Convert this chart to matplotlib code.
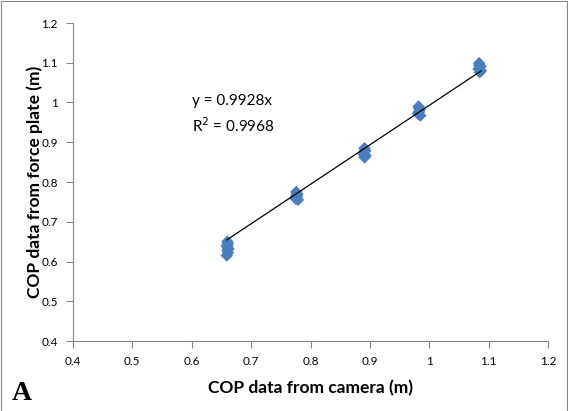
import matplotlib.pyplot as plt
import numpy as np
from matplotlib.patches import Rectangle

# COP positions (m)
cam_x = [0.660, 0.661, 0.659, 0.662, 0.660, 0.661, 0.659, 0.660,
         0.776, 0.778, 0.777, 0.775, 0.779, 0.777, 0.776,
         0.891, 0.892, 0.890, 0.893, 0.891, 0.892, 0.890,
         0.982, 0.984, 0.983, 0.981, 0.985, 0.983, 0.982,
         1.084, 1.086, 1.085, 1.083, 1.087, 1.085, 1.084, 1.086]
plate_y = [0.650, 0.645, 0.638, 0.632, 0.628, 0.622, 0.615, 0.641,
           0.775, 0.768, 0.762, 0.758, 0.755, 0.770, 0.765,
           0.885, 0.878, 0.872, 0.866, 0.862, 0.880, 0.869,
           0.990, 0.983, 0.977, 0.972, 0.967, 0.986, 0.975,
           1.099, 1.092, 1.088, 1.084, 1.080, 1.076, 1.094, 1.090]
slope = 0.9928
r2 = 0.9968

ticks = [0.4, 0.5, 0.6, 0.7, 0.8, 0.9, 1.0, 1.1, 1.2]
tick_labels = ['0.4', '0.5', '0.6', '0.7', '0.8', '0.9', '1', '1.1', '1.2']

plt.rcParams['font.family'] = ['Lato', 'DejaVu Sans']

fig = plt.figure(figsize=(5.68, 4.11), dpi=100)
ax = fig.add_axes([73 / 568, 70 / 411, 475 / 568, 318 / 411])

ax.scatter(cam_x, plate_y, marker='D', s=40, color='#4a7ebb', edgecolors='none', zorder=2)

fit_x = np.array([min(cam_x), max(cam_x)])
ax.plot(fit_x, slope * fit_x, color='black', lw=0.9, zorder=3)

ax.set_xlim(0.4, 1.2)
ax.set_ylim(0.4, 1.2)
ax.set_xticks(ticks)
ax.set_xticklabels(tick_labels)
ax.set_yticks(ticks)
ax.set_yticklabels(tick_labels)
ax.tick_params(direction='out', length=5, width=0.8, color='#868686', labelsize=8.5, pad=6)

for side in ['top', 'right']:
    ax.spines[side].set_visible(False)
for side in ['left', 'bottom']:
    ax.spines[side].set_color('#868686')
    ax.spines[side].set_linewidth(0.8)

ax.set_xlabel('COP data from camera (m)', fontsize=12.5, fontweight='bold', labelpad=9)
ax.set_ylabel('COP data from force plate (m)', fontsize=12.5, fontweight='bold', labelpad=-1)

ax.text(0.6, 1.005, 'y = 0.9928x', fontsize=11, va='center')
ax.text(0.6, 0.942, 'R$^2$ = %.4f' % r2, fontsize=11, va='center')

fig.text(12 / 568, 11 / 411, 'A', fontsize=20, fontweight='bold', family='Liberation Serif', va='baseline')

fig.patches.append(Rectangle((0.5 / 568, 0.5 / 411), 1 - 1.5 / 568, 1 - 1.5 / 411,
                             transform=fig.transFigure, fill=False, edgecolor='#868686', lw=0.8))

fig.savefig('out.png', dpi=100)
